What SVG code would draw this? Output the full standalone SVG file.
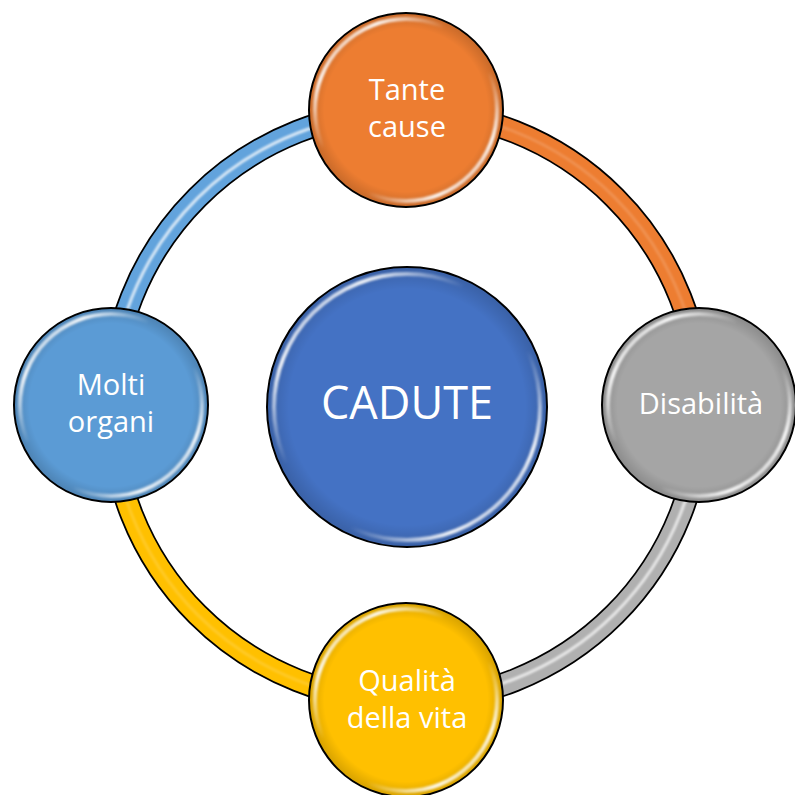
<svg xmlns="http://www.w3.org/2000/svg" width="795" height="795" viewBox="0 0 795 795">
<style>
.band-out{fill:none;stroke:#000;stroke-width:24}
.band{fill:none;stroke-width:20.5}
.shine{fill:none;stroke:#fff;stroke-width:3;opacity:0.5;filter:url(#soft)}
.node{stroke:#000;stroke-width:2}
.hl{fill:none;stroke:url(#hlg);stroke-width:4;filter:url(#soft)}
.edge{fill:url(#edgeg)}
.lbl{font-family:"Open Sans","Noto Sans","Liberation Sans",sans-serif;fill:#fff;text-anchor:middle;font-size:29px}
</style>
<defs>
<filter id="soft" x="-10%" y="-10%" width="120%" height="120%"><feGaussianBlur stdDeviation="1.2"/></filter>
<linearGradient id="hlg" x1="0" y1="0" x2="1" y2="1">
<stop offset="0.08" stop-color="#fff" stop-opacity="0.3"/>
<stop offset="0.18" stop-color="#fff" stop-opacity="0.9"/>
<stop offset="0.3" stop-color="#fff" stop-opacity="0.3"/>
<stop offset="0.38" stop-color="#fff" stop-opacity="0"/>
<stop offset="0.62" stop-color="#fff" stop-opacity="0"/>
<stop offset="0.7" stop-color="#fff" stop-opacity="0.3"/>
<stop offset="0.82" stop-color="#fff" stop-opacity="0.9"/>
<stop offset="0.92" stop-color="#fff" stop-opacity="0.3"/>
</linearGradient>
<radialGradient id="edgeg" cx="0.5" cy="0.5" r="0.5">
<stop offset="0.85" stop-color="#000" stop-opacity="0"/>
<stop offset="1" stop-color="#000" stop-opacity="0.15"/>
</radialGradient>
</defs>
<rect width="795" height="795" fill="#fff"/>
<g id="connectors">
<path class="band-out" d="M111,406 A295,295 0 0 1 406,111"/>
<path class="band-out" d="M406,111 A295,295 0 0 1 701,406"/>
<path class="band-out" d="M701,406 A295,295 0 0 1 406,701"/>
<path class="band-out" d="M406,701 A295,295 0 0 1 111,406"/>
<path class="band" stroke="#62A3DC" d="M111,406 A295,295 0 0 1 406,111"/>
<path class="band" stroke="#ED7D31" d="M406,111 A295,295 0 0 1 701,406"/>
<path class="band" stroke="#B0B0B0" d="M701,406 A295,295 0 0 1 406,701"/>
<path class="band" stroke="#FFC000" d="M406,701 A295,295 0 0 1 111,406"/>
<path class="shine" d="M111,406 A293,293 0 0 1 406,113" style="opacity:0.75"/>
<path class="shine" d="M406,111 A295,295 0 0 1 701,406" style="opacity:0.15"/>
<path class="shine" d="M701,406 A293,293 0 0 1 406,699" style="opacity:0.7"/>
<path class="shine" d="M406,701 A295,295 0 0 1 111,406" style="opacity:0.15"/>
</g>
<g id="node-center">
<circle class="node" cx="407" cy="407" r="140" fill="#4472C4"/>
<circle class="edge" cx="407" cy="407" r="139"/>
<circle class="hl" cx="407" cy="407" r="133"/>
<text class="lbl" x="407" y="419" style="font-size:45px">CADUTE</text>
</g>
<g id="node-top">
<circle class="node" cx="406" cy="110" r="97" fill="#ED7D31"/>
<circle class="edge" cx="406" cy="110" r="96"/>
<circle class="hl" cx="406" cy="110" r="91"/>
<text class="lbl" x="407" y="100">Tante</text>
<text class="lbl" x="407" y="137">cause</text>
</g>
<g id="node-right">
<circle class="node" cx="699" cy="405" r="97" fill="#A5A5A5"/>
<circle class="edge" cx="699" cy="405" r="96"/>
<circle class="hl" cx="699" cy="405" r="91"/>
<text class="lbl" x="701" y="414">Disabilità</text>
</g>
<g id="node-bottom">
<circle class="node" cx="406" cy="700" r="97" fill="#FFC000"/>
<circle class="edge" cx="406" cy="700" r="96"/>
<circle class="hl" cx="406" cy="700" r="91"/>
<text class="lbl" x="407" y="691">Qualità</text>
<text class="lbl" x="407" y="728">della vita</text>
</g>
<g id="node-left">
<circle class="node" cx="111" cy="405" r="97" fill="#5B9BD5"/>
<circle class="edge" cx="111" cy="405" r="96"/>
<circle class="hl" cx="111" cy="405" r="91"/>
<text class="lbl" x="111" y="395">Molti</text>
<text class="lbl" x="111" y="432">organi</text>
</g>
</svg>
